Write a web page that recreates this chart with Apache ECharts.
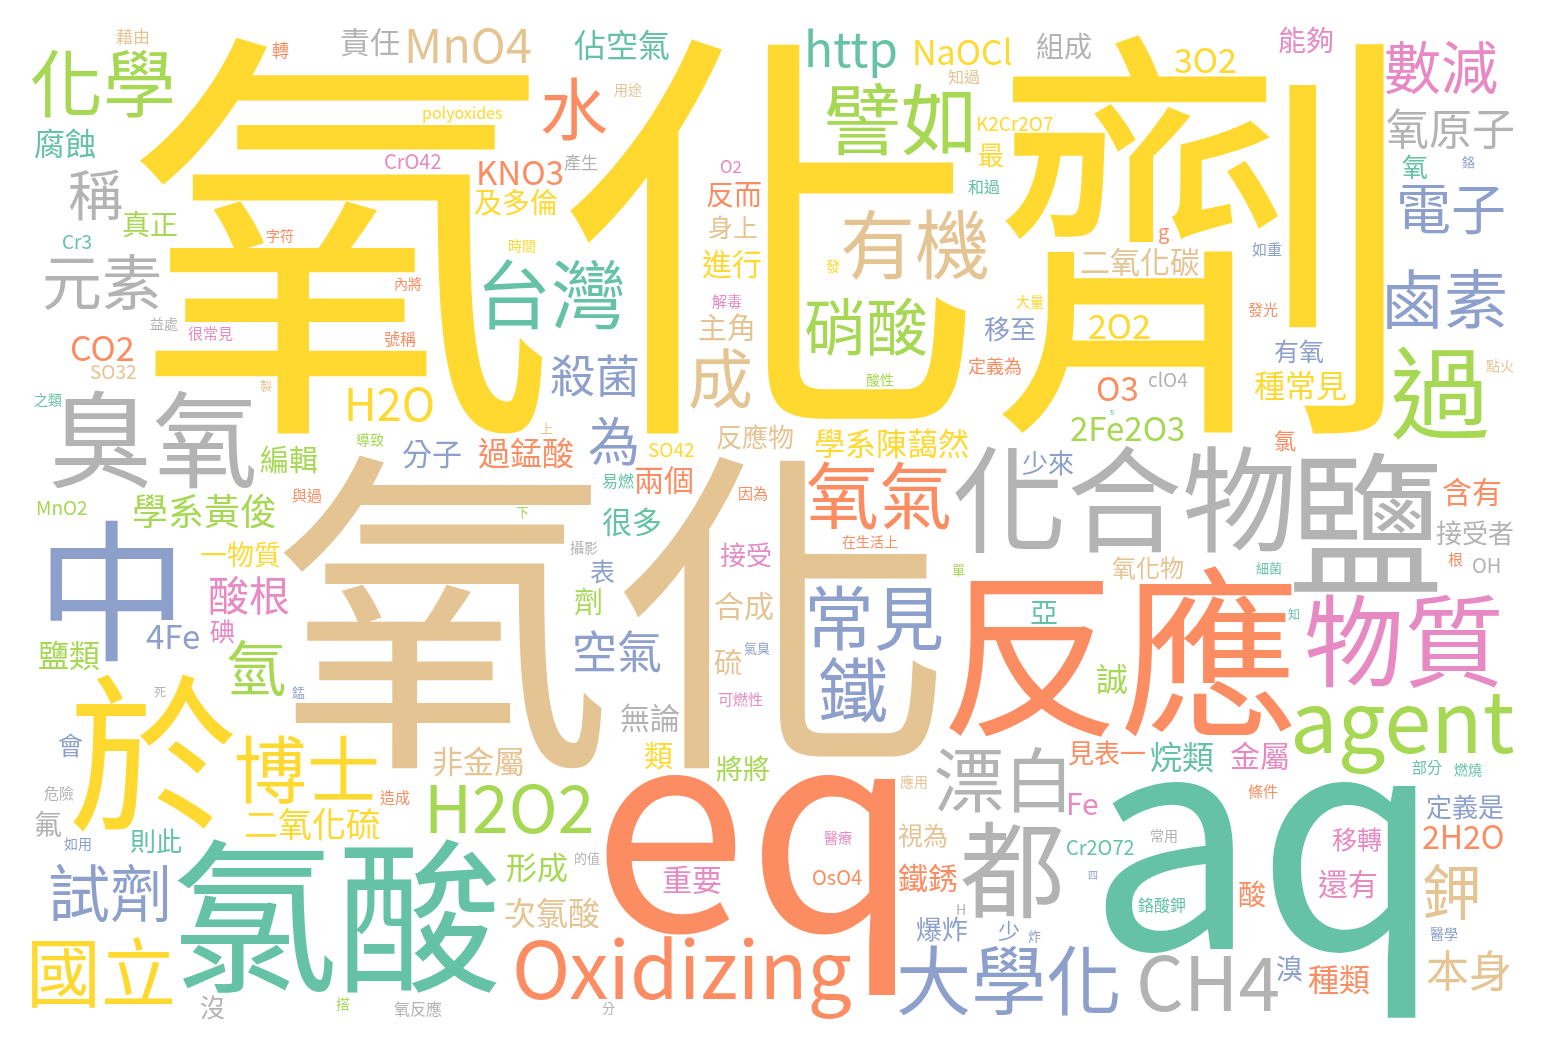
<!DOCTYPE html>
<html>
<head>
<meta charset="utf-8">
<title>氧化劑 文字雲</title>
<script src="https://cdn.jsdelivr.net/npm/echarts@6/dist/echarts.min.js"></script>
<style>
  html, body { margin: 0; padding: 0; background: #fff; }
  #main { width: 1548px; height: 1052px; }
</style>
</head>
<body>
<div id="main"></div>
<script>
// words and their weights (biggest first)
var words = [
  '氧化劑', '氧化', 'aq', 'eq', '反應', '於', '氯酸', '鹽', '中', '化合物',
  'Oxidizing', '臭氧', '都', '過', '物質', 'agent', '大學化', '譬如', '有機', '國立',
  '台灣', 'CH4', '氧氣', '化學', '博士', '常見', '漂白', '鐵', '水', 'H2O2',
  '成', '鹵素', '硝酸', '試劑', '元素', '鉀', '氫', '數減', '稱', '電子',
  '為', 'http', 'MnO4', '空氣', '殺菌', 'H2O', '氧原子', '本身', '酸根', '學系黃俊',
  '2O2', 'CO2', '3O2', 'NaOCl', '二氧化硫', '2Fe2O3', 'KNO3', '4Fe', 'O3', '佔空氣',
  '烷類', '次氯酸', '過錳酸', '2H2O', '誠', '學系陳藹然', '腐蝕', '種常見', '鹽類', '形成',
  '種類', '非金屬', '很多', '鐵銹', '重要', '兩個', '金屬', '責任', '二氧化碳', '進行',
  '合成', '含有', '無論', '還有', '分子', '主角', '劑', '類', '真正', '反而',
  '能夠', '編輯', '組成', '酸', '氟', '硫', '及多倫', '亞', 'Fe', '一物質',
  '將將', '溴', '移至', '定義是', '反應物', '見表一', '接受者', '則此', '最', '有氧',
  '爆炸', '少來', '氧化物', '接受', '身上', '視為', '移轉', '會', '碘', '沒',
  '氧', '表', '少', '氯', 'g', 'OH', 'Cr2O72', 'OsO4', 'CrO42', 'MnO2',
  'clO4', 'SO42', 'K2Cr2O7', 'Cr3', 'SO32', 'O2', '藉由', '產生', '轉', '定義為',
  'polyoxides', '鉻酸鉀', '氧反應', '知過', '和過', '號稱', '易燃', '部分', '發光', '解毒',
  '條件', '可燃性', '造成', '與過', '危險', '很常見', '根', '如重', '因為', '應用',
  '用途', '時間', '常用', '醫療', '燃燒', '酸性', '大量', '醫學', '字符', '益處',
  '導致', '如用', '點火', '搭', '攝影', '之類', '內將', '在生活上', '發', 'H',
  '細菌', '分', '的值', '下', '上', '錳', '炸', '單', '氣臭', '鉻',
  '死', '製', '知', '四', 's'
];
var weights = [
  430, 340, 300, 280, 180, 170, 165, 155, 152, 115,
  110, 105, 105, 100, 100, 90, 80, 77, 75, 75,
  75, 75, 73, 73, 73, 70, 70, 70, 68, 66,
  65, 64, 62, 62, 60, 60, 60, 57, 55, 55,
  52, 48, 47, 45, 45, 45, 43, 43, 41, 36,
  34, 34, 34, 34, 34, 33, 33, 33, 33, 32,
  32, 32, 32, 32, 32, 31, 31, 31, 31, 31,
  31, 31, 30, 30, 30, 30, 30, 30, 30, 30,
  30, 30, 30, 30, 30, 29, 29, 29, 28, 28,
  28, 29, 28, 28, 28, 28, 28, 28, 30, 27,
  27, 27, 26, 26, 26, 26, 26, 26, 26, 25,
  26, 26, 24, 26, 25, 25, 25, 25, 25, 25,
  26, 25, 22, 22, 20, 20, 20, 20, 20, 19,
  19, 19, 19, 19, 19, 17, 17, 17, 17, 18,
  16, 16, 16, 16, 16, 16, 16, 15, 15, 15,
  15, 15, 15, 15, 15, 15, 15, 15, 15, 14,
  14, 14, 14, 14, 14, 14, 14, 14, 14, 14,
  14, 14, 14, 14, 14, 14, 14, 14, 14, 14,
  13, 13, 13, 13, 13, 13, 13, 13, 13, 13,
  12, 12, 12, 10, 9
];

// Set2 palette and the colour each word got in the picture
var palette = ['#66c2a5', '#fc8d62', '#8da0cb', '#e78ac3', '#a6d854', '#ffd92f', '#e5c494', '#b3b3b3'];
var tint = [
  5, 6, 0, 1, 1, 5, 0, 7, 2, 7,
  1, 7, 7, 4, 3, 4, 2, 4, 6, 5,
  0, 7, 1, 4, 5, 2, 7, 2, 1, 4,
  6, 2, 4, 2, 7, 6, 4, 3, 7, 2,
  2, 0, 6, 2, 2, 5, 7, 6, 3, 4,
  5, 1, 5, 5, 5, 4, 1, 2, 1, 0,
  0, 6, 1, 1, 4, 5, 0, 5, 4, 4,
  1, 6, 0, 1, 3, 1, 3, 7, 6, 5,
  6, 1, 7, 3, 2, 6, 4, 5, 4, 1,
  3, 4, 7, 1, 7, 6, 5, 0, 3, 5,
  4, 2, 2, 2, 6, 1, 7, 0, 5, 2,
  2, 2, 6, 3, 6, 6, 3, 2, 3, 7,
  0, 2, 2, 1, 1, 7, 0, 1, 3, 4,
  7, 5, 5, 0, 6, 3, 6, 7, 1, 1,
  5, 0, 7, 6, 0, 1, 0, 0, 1, 3,
  1, 3, 1, 1, 7, 3, 1, 2, 1, 6,
  6, 5, 7, 3, 0, 4, 5, 2, 1, 7,
  4, 2, 6, 4, 7, 0, 1, 1, 5, 7,
  0, 7, 7, 4, 6, 2, 2, 4, 2, 2,
  7, 6, 0, 2, 0
];

var FONT = "'Noto Sans CJK TC', 'Noto Sans CJK SC', sans-serif";
var W = 1548, H = 1052;
var X0 = 30, Y0 = 25, X1 = 1518, Y1 = 1022;   // cloud canvas inside the page
var MAX_FONT = 430, MIN_FONT = 9;
var S = 0.5, PAD = 1;                        // occupancy grid scale, box padding (cells)

function mulberry32(a) {
  return function () {
    a |= 0; a = a + 0x6D2B79F5 | 0;
    var t = Math.imul(a ^ a >>> 15, 1 | a);
    t = t + Math.imul(t ^ t >>> 7, 61 | t) ^ t;
    return ((t ^ t >>> 14) >>> 0) / 4294967296;
  };
}

// random placement on a pixel occupancy grid, biggest words first
function layout() {
  var rand = mulberry32(7);
  var gw = Math.floor((X1 - X0) * S), gh = Math.floor((Y1 - Y0) * S);
  var cvs = document.createElement('canvas');
  cvs.width = gw; cvs.height = gh;
  var ctx = cvs.getContext('2d', { willReadFrequently: true });
  ctx.textAlign = 'center';
  ctx.textBaseline = 'middle';
  ctx.fillStyle = '#000';
  var occ = new Uint8Array(gw * gh);
  var iw = gw + 1;
  var integ = new Int32Array(iw * (gh + 1));

  function rebuild() {
    for (var y = 0; y < gh; y++) {
      var rowSum = 0;
      for (var x = 0; x < gw; x++) {
        rowSum += occ[y * gw + x];
        integ[(y + 1) * iw + x + 1] = integ[y * iw + x + 1] + rowSum;
      }
    }
  }
  rebuild();

  var wMax = Math.max.apply(null, weights);
  var order = words.map(function (w, i) { return i; })
    .sort(function (a, b) { return weights[b] - weights[a]; });
  var placed = [];

  order.forEach(function (i) {
    var fs = MAX_FONT * weights[i] / wMax;
    while (fs >= MIN_FONT) {
      ctx.font = (fs * S) + 'px ' + FONT;
      var m = ctx.measureText(words[i]);
      var l = m.actualBoundingBoxLeft, r = m.actualBoundingBoxRight;
      var a = m.actualBoundingBoxAscent, d = m.actualBoundingBoxDescent;
      var bw = Math.ceil(l + r) + 2 * PAD, bh = Math.ceil(a + d) + 2 * PAD;
      var hits = 0;
      if (bw < gw && bh < gh) {
        for (var y = 0; y + bh <= gh; y++) {
          for (var x = 0; x + bw <= gw; x++) {
            var s = integ[(y + bh) * iw + x + bw] - integ[y * iw + x + bw] -
                    integ[(y + bh) * iw + x] + integ[y * iw + x];
            if (s === 0) hits++;
          }
        }
      }
      if (hits > 0) {
        var k = Math.floor(rand() * hits), px = 0, py = 0, found = false;
        for (var y2 = 0; y2 + bh <= gh && !found; y2++) {
          for (var x2 = 0; x2 + bw <= gw; x2++) {
            var s2 = integ[(y2 + bh) * iw + x2 + bw] - integ[y2 * iw + x2 + bw] -
                     integ[(y2 + bh) * iw + x2] + integ[y2 * iw + x2];
            if (s2 === 0) {
              if (k === 0) { px = x2; py = y2; found = true; break; }
              k--;
            }
          }
        }
        var cx = px + PAD + l, cy = py + PAD + a;
        ctx.fillText(words[i], cx, cy);
        var img = ctx.getImageData(px, py, bw, bh).data;
        for (var yy = 0; yy < bh; yy++) {
          for (var xx = 0; xx < bw; xx++) {
            if (img[(yy * bw + xx) * 4 + 3] > 0) occ[(py + yy) * gw + px + xx] = 1;
          }
        }
        rebuild();
        placed.push({ name: words[i], x: X0 + cx / S, y: Y0 + cy / S, size: fs, color: palette[tint[i]] });
        break;
      }
      fs -= Math.max(2, fs * 0.03);
    }
  });
  return placed;
}

var placed = layout();

var chart = echarts.init(document.getElementById('main'));
var option = {
  backgroundColor: '#ffffff',
  animation: false,
  grid: { left: 0, right: 0, top: 0, bottom: 0 },
  xAxis: { type: 'value', min: 0, max: W, show: false },
  yAxis: { type: 'value', min: 0, max: H, inverse: true, show: false },
  series: [{
    type: 'scatter',
    silent: true,
    symbolSize: 1,
    itemStyle: { color: 'rgba(0,0,0,0)', opacity: 1 },
    data: placed.map(function (p) {
      return {
        name: p.name,
        value: [p.x, p.y],
        label: {
          show: true,
          position: 'inside',
          formatter: p.name,
          fontSize: p.size,
          fontFamily: FONT,
          color: p.color,
          opacity: 1
        }
      };
    })
  }]
};
chart.setOption(option);
</script>
</body>
</html>
